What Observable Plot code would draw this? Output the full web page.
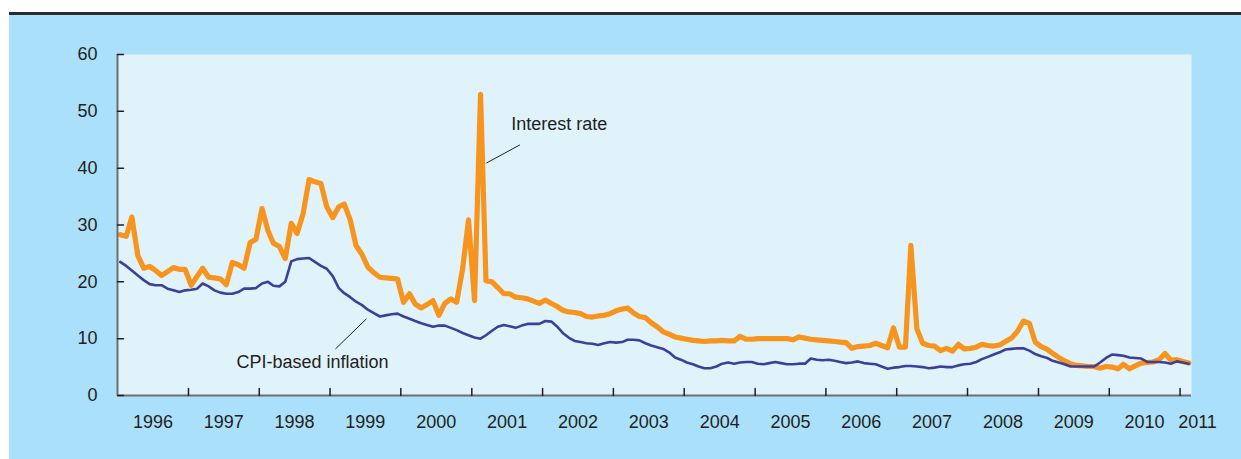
<!DOCTYPE html>
<html><head><meta charset="utf-8">
<script src="https://cdn.jsdelivr.net/npm/d3@7"></script>
<script src="https://cdn.jsdelivr.net/npm/@observablehq/plot@0.6"></script>
<style>
html,body{margin:0;padding:0;background:#fff;width:1241px;height:459px;overflow:hidden;}
#bg{position:absolute;left:9px;top:12px;width:1232px;height:447px;background:#abe0fa;border-top:3px solid #2b2b2b;box-sizing:border-box;}
#chart{position:absolute;left:0;top:0;}
</style></head><body><div id="bg"></div><div id="chart"></div>
<script>
// Monthly series, January 1996 to February 2011 (percent)
const startYear = 1996;
const interestRate = [
  28.3, 28.0, 31.4, 24.6, 22.4, 22.7, 22.0, 21.1, 21.8, 22.5, 22.2, 22.2,
  19.4, 21.0, 22.4, 20.8, 20.7, 20.5, 19.5, 23.4, 23.0, 22.4, 26.9, 27.5,
  32.9, 29.0, 26.8, 26.2, 24.1, 30.3, 28.5, 32.0, 38.0, 37.6, 37.3, 33.2,
  31.3, 33.2, 33.7, 30.9, 26.4, 24.8, 22.6, 21.6, 20.8, 20.7, 20.6, 20.5,
  16.4, 17.9, 16.1, 15.4, 16.0, 16.7, 14.1, 16.2, 17.0, 16.4, 22.4, 30.9,
  16.7, 53.0, 20.2, 20.0, 19.0, 17.9, 17.9, 17.3, 17.2, 17.0, 16.6, 16.2,
  16.8, 16.2, 15.7, 15.0, 14.7, 14.6, 14.4, 13.9, 13.8, 14.0, 14.1, 14.4,
  14.9, 15.2, 15.4, 14.5, 13.9, 13.7, 12.8, 12.1, 11.2, 10.8, 10.3, 10.1,
  9.9, 9.7, 9.6, 9.5, 9.6, 9.6, 9.7, 9.6, 9.6, 10.4, 9.9, 9.9,
  10.0, 10.0, 10.0, 10.0, 10.0, 10.0, 9.8, 10.3, 10.1, 9.9, 9.8, 9.7,
  9.6, 9.5, 9.4, 9.3, 8.3, 8.6, 8.7, 8.8, 9.2, 8.8, 8.4, 11.9,
  8.5, 8.5, 26.4, 11.7, 9.2, 8.8, 8.7, 7.9, 8.3, 7.8, 9.0, 8.2,
  8.3, 8.5, 9.0, 8.8, 8.7, 8.9, 9.5, 10.1, 11.3, 13.1, 12.7, 9.4,
  8.6, 8.1, 7.4, 6.7, 6.1, 5.6, 5.3, 5.2, 5.1, 5.1, 4.8, 5.1,
  5.0, 4.7, 5.5, 4.7, 5.2, 5.7, 5.8, 5.9, 6.3, 7.4, 6.2, 6.3,
  6.0, 5.7
];
const cpiInflation = [
  23.5, 22.8, 22.0, 21.1, 20.3, 19.6, 19.4, 19.4, 18.8, 18.5, 18.2, 18.5,
  18.6, 18.8, 19.7, 19.2, 18.5, 18.1, 17.9, 17.9, 18.2, 18.8, 18.8, 18.9,
  19.7, 20.0, 19.3, 19.2, 20.0, 23.6, 24.0, 24.1, 24.2, 23.5, 22.8, 22.3,
  21.0, 18.9, 18.0, 17.3, 16.5, 15.9, 15.1, 14.5, 13.9, 14.1, 14.3, 14.4,
  13.9, 13.5, 13.1, 12.7, 12.4, 12.1, 12.3, 12.3, 11.9, 11.5, 11.0, 10.6,
  10.2, 10.0, 10.6, 11.4, 12.1, 12.4, 12.2, 11.9, 12.3, 12.6, 12.6, 12.6,
  13.1, 13.0, 12.2, 11.0, 10.2, 9.6, 9.4, 9.2, 9.1, 8.9, 9.2, 9.4,
  9.3, 9.4, 9.8, 9.8, 9.7, 9.2, 8.8, 8.5, 8.2, 7.6, 6.7, 6.3,
  5.8, 5.5, 5.1, 4.8, 4.8, 5.1, 5.6, 5.8, 5.6, 5.8, 5.9, 5.9,
  5.6, 5.5, 5.7, 5.9, 5.7, 5.5, 5.5, 5.6, 5.6, 6.5, 6.3, 6.2,
  6.3, 6.1, 5.9, 5.7, 5.8, 6.0, 5.7, 5.6, 5.5, 5.1, 4.7, 4.9,
  5.0, 5.2, 5.2, 5.1, 5.0, 4.8, 4.9, 5.1, 5.0, 5.0, 5.3, 5.5,
  5.6, 5.9, 6.4, 6.8, 7.2, 7.6, 8.1, 8.2, 8.3, 8.3, 7.9, 7.3,
  6.9, 6.6, 6.1, 5.8, 5.5, 5.1, 5.1, 5.1, 5.1, 5.1, 5.8, 6.6,
  7.2, 7.1, 7.0, 6.7, 6.6, 6.5, 5.9, 5.9, 5.9, 5.8, 5.6, 6.0,
  5.8, 5.6
];
const yearLabels = ["1996","1997","1998","1999","2000","2001","2002","2003","2004","2005","2006","2007","2008","2009","2010","2011"];
const yTicks = [0, 10, 20, 30, 40, 50, 60];
const labels = [
  {text: "Interest rate", date: "2001-07-23", value: 47.8, fromDate: "2001-09-06", fromValue: 44.1, toDate: "2001-03-17", toValue: 40.9},
  {text: "CPI-based inflation", date: "1997-09-05", value: 5.9, fromDate: "1999-01-29", fromValue: 8.2, toDate: "1999-07-08", toValue: 13.5}
];

const monthDate = (i) => new Date(Date.UTC(startYear, i, 15));
const rateData = interestRate.map((v, i) => ({date: monthDate(i), value: v}));
const cpiData = cpiInflation.map((v, i) => ({date: monthDate(i), value: v}));
const yearStarts = yearLabels.map(y => new Date(Date.UTC(+y, 0, 1)));
const yearLabelData = yearLabels.map((y, i) => ({
  label: y,
  date: i < yearLabels.length - 1 ? new Date(Date.UTC(+y, 6, 2)) : new Date(Date.UTC(+y, 3, 1))
}));
const xDomain = [new Date(Date.UTC(1996, 0, 1)), new Date(Date.UTC(2011, 2, 1))];
const lbl = labels.map(d => ({...d, date: new Date(d.date), fromDate: new Date(d.fromDate), toDate: new Date(d.toDate)}));

const ink = "#231f20";
const chart = Plot.plot({
  width: 1241,
  height: 459,
  marginLeft: 117,
  marginRight: 50,
  marginTop: 54,
  marginBottom: 64,
  style: {background: "transparent", fontFamily: "'Liberation Sans', Arial, sans-serif", fontSize: "18px", color: ink},
  x: {type: "utc", domain: xDomain, axis: null},
  y: {domain: [0, 60], axis: null},
  marks: [
    Plot.frame({fill: "#e0f3fb", stroke: "none"}),
    Plot.line(rateData, {x: "date", y: "value", stroke: "#f7941d", strokeWidth: 5.2, strokeLinejoin: "round", strokeLinecap: "round"}),
    Plot.line(cpiData, {x: "date", y: "value", stroke: "#3e3f98", strokeWidth: 2.6, strokeLinejoin: "round"}),
    Plot.link(lbl, {x1: "fromDate", y1: "fromValue", x2: "toDate", y2: "toValue", stroke: ink, strokeWidth: 1}),
    Plot.text(lbl, {x: "date", y: "value", text: "text", textAnchor: "start", fill: ink, fontSize: 18}),
    Plot.ruleY([0], {stroke: "#6d6e71", strokeWidth: 2}),
    Plot.ruleX([xDomain[0]], {stroke: "#6d6e71", strokeWidth: 2}),
    // inward tick marks
    Plot.vector(yTicks, {x: () => xDomain[0], y: d => d, rotate: 90, length: 6, anchor: "start", shape: "spike", r: 0, stroke: ink, strokeWidth: 1.5}),
    Plot.vector(yearStarts.slice(1), {x: d => d, y: () => 0, rotate: 0, length: 7, anchor: "start", shape: "spike", r: 0, stroke: ink, strokeWidth: 1.5}),
    Plot.text(yTicks, {x: () => xDomain[0], y: d => d, text: d => String(d), textAnchor: "end", dx: -20, fill: ink, fontSize: 18}),
    Plot.text(yearLabelData, {x: "date", y: () => 0, text: "label", dy: 27, fill: ink, fontSize: 18})
  ]
});
document.getElementById("chart").appendChild(chart);
</script>
</body></html>
